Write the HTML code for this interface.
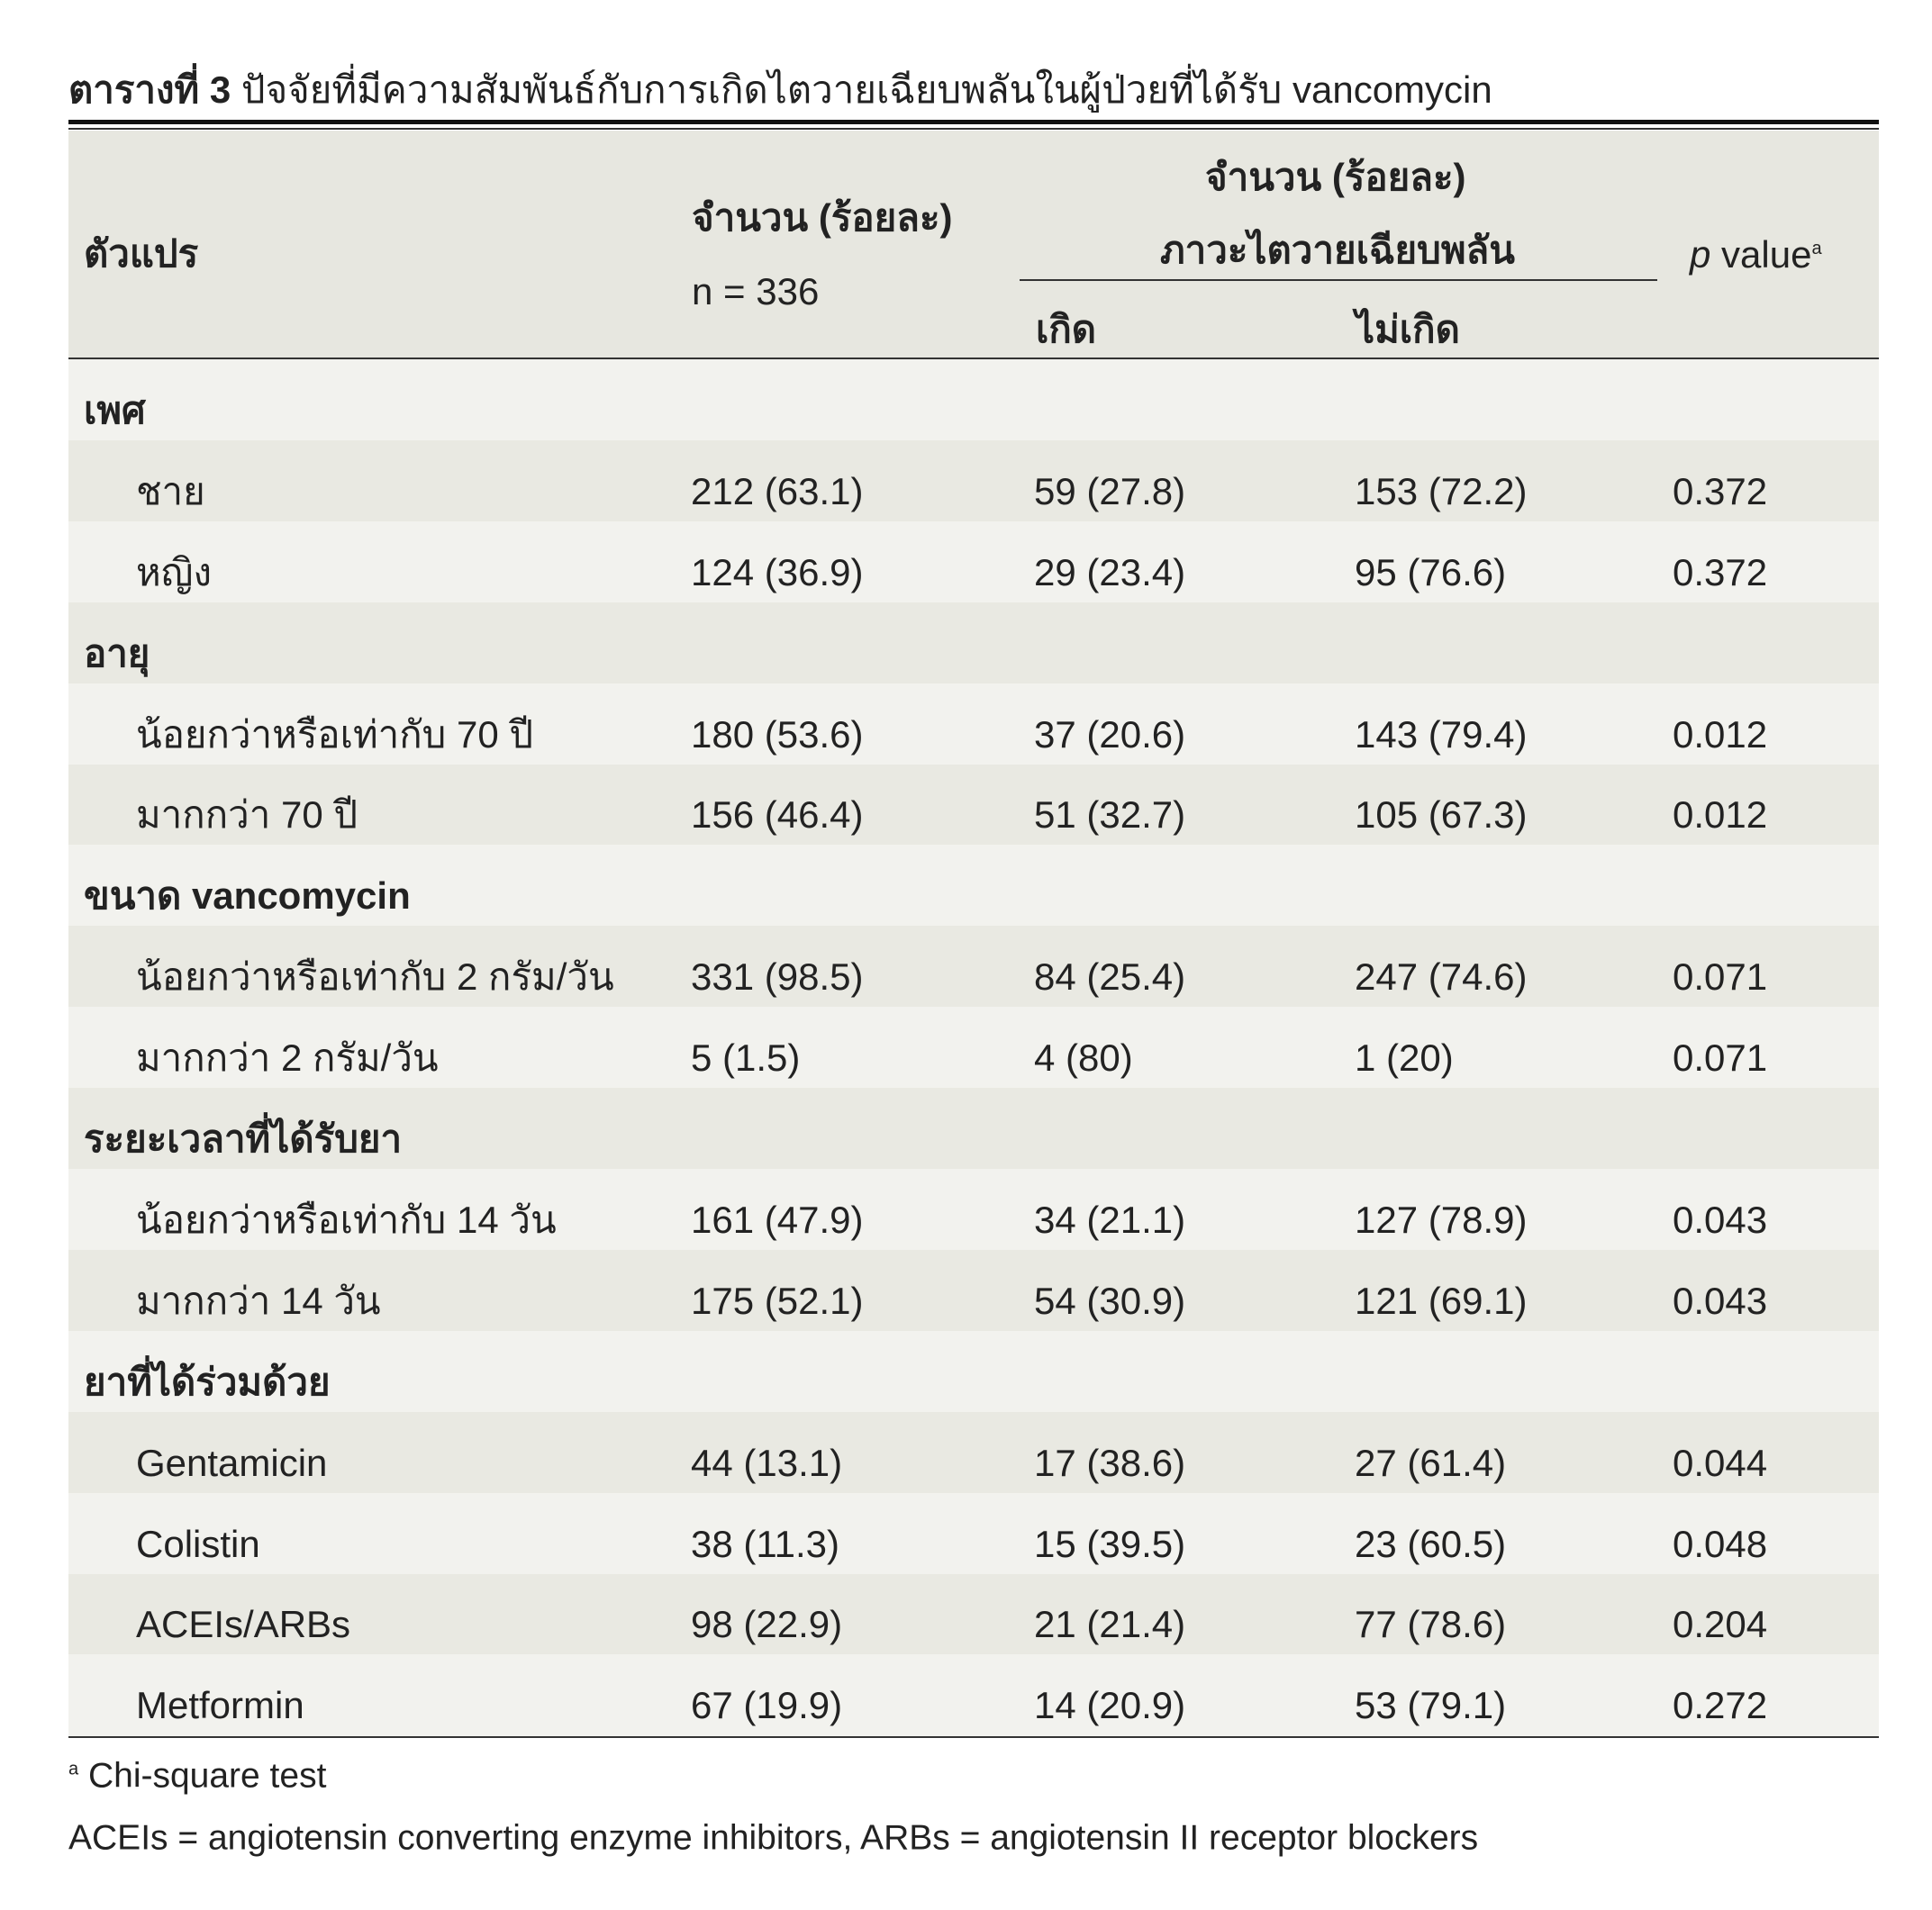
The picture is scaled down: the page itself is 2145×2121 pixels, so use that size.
<!DOCTYPE html>
<html><head><meta charset="utf-8"><style>
body{margin:0;width:2145px;height:2121px;background:#fff;position:relative;font-family:"Liberation Sans","DejaVu Sans",sans-serif;color:#222;overflow:hidden}
.t{position:absolute;white-space:nowrap;font-size:42px;line-height:1;transform:translateY(-50%)}
.b{font-weight:bold}
.r{position:absolute;left:76px;width:2010px}
</style></head><body>
<div class="t" style="left:76px;top:100px;font-size:42px"><span class="b">ตารางที่ 3</span> ปัจจัยที่มีความสัมพันธ์กับการเกิดไตวายเฉียบพลันในผู้ป่วยที่ได้รับ vancomycin</div>
<div class="r" style="top:133px;height:5px;background:#111"></div>
<div class="r" style="top:142px;height:2px;background:#333"></div>
<div class="r" style="top:145px;height:252px;background:#e7e7e0"></div>
<div class="r" style="top:397px;height:2px;background:#333"></div>
<div id="rows"></div>
<div class="r" style="top:1928px;height:2px;background:#333"></div>
<div style="position:absolute;left:1132px;width:708px;top:310px;height:2px;background:#333"></div>
<div class="t b" style="left:93px;top:282px">ตัวแปร</div>
<div class="t b" style="left:768px;top:242px">จำนวน (ร้อยละ)</div>
<div class="t" style="left:768px;top:324px">n = 336</div>
<div class="t b" style="left:1338px;top:197px">จำนวน (ร้อยละ)</div>
<div class="t b" style="left:1288px;top:278px">ภาวะไตวายเฉียบพลัน</div>
<div class="t b" style="left:1150px;top:366px">เกิด</div>
<div class="t b" style="left:1505px;top:366px">ไม่เกิด</div>
<div class="t" style="left:1876px;top:283px"><i>p</i> value<sup style="font-size:20px">a</sup></div>
<div class="t" style="left:76px;top:1972px;font-size:39px"><sup style="font-size:20px">a</sup> Chi-square test</div>
<div class="t" style="left:76px;top:2041px;font-size:39px">ACEIs = angiotensin converting enzyme inhibitors, ARBs = angiotensin II receptor blockers</div>
<script>
var d=[["เพศ"],["ชาย","212 (63.1)","59 (27.8)","153 (72.2)","0.372"],["หญิง","124 (36.9)","29 (23.4)","95 (76.6)","0.372"],["อายุ"],["น้อยกว่าหรือเท่ากับ 70 ปี","180 (53.6)","37 (20.6)","143 (79.4)","0.012"],["มากกว่า 70 ปี","156 (46.4)","51 (32.7)","105 (67.3)","0.012"],["ขนาด vancomycin"],["น้อยกว่าหรือเท่ากับ 2 กรัม/วัน","331 (98.5)","84 (25.4)","247 (74.6)","0.071"],["มากกว่า 2 กรัม/วัน","5 (1.5)","4 (80)","1 (20)","0.071"],["ระยะเวลาที่ได้รับยา"],["น้อยกว่าหรือเท่ากับ 14 วัน","161 (47.9)","34 (21.1)","127 (78.9)","0.043"],["มากกว่า 14 วัน","175 (52.1)","54 (30.9)","121 (69.1)","0.043"],["ยาที่ได้ร่วมด้วย"],["Gentamicin","44 (13.1)","17 (38.6)","27 (61.4)","0.044"],["Colistin","38 (11.3)","15 (39.5)","23 (60.5)","0.048"],["ACEIs/ARBs","98 (22.9)","21 (21.4)","77 (78.6)","0.204"],["Metformin","67 (19.9)","14 (20.9)","53 (79.1)","0.272"]];
var h="",rh=89.9,x=[151,767,1148,1504,1857];
d.forEach(function(r,i){var top=399+i*rh;h+='<div class="r" style="top:'+top+'px;height:'+(rh+1)+'px;background:'+(i%2?'#e9e9e2':'#f2f2ee')+'"></div>';var c=top+rh/2+(r.length==1?12:12);
if(r.length==1)h+='<div class="t b" style="left:93px;top:'+c+'px">'+r[0]+'</div>';else r.forEach(function(v,j){h+='<div class="t" style="left:'+x[j]+'px;top:'+c+'px">'+v+'</div>'});});
document.getElementById("rows").innerHTML=h;
</script>
</body></html>
